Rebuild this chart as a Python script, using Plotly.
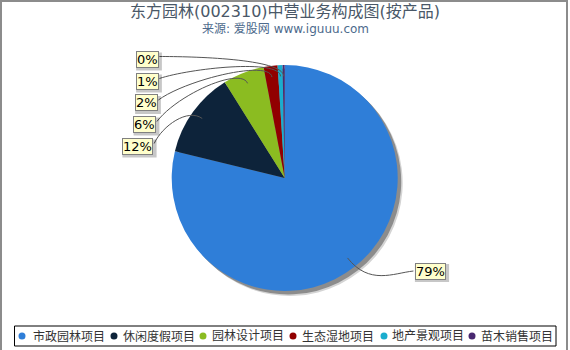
import math
import plotly.graph_objects as go

W, H = 570, 350

categories = ["市政园林项目", "休闲度假项目", "园林设计项目", "生态湿地项目", "地产景观项目", "苗木销售项目"]
shares = [78.8, 12.3, 5.9, 2.0, 0.7, 0.3]
pct_labels = ["79%", "12%", "6%", "2%", "1%", "0%"]
colors = ["#2f7ed8", "#0d233a", "#8bbc21", "#910000", "#1aadce", "#492970"]

# layout constants (pixels)
CX, CY, R = 284.7, 178.0, 113.0
label_pos = [(430, 271), (137.5, 146.5), (144.5, 124.5), (146, 103), (147, 81.5), (147, 59.5)]
legend_circle_x = [22, 114, 203, 293, 384, 472]
legend_text_x = [31, 121, 210, 300, 390, 479]
LEG_Y = 336
FONT = "DejaVu Sans, Noto Sans CJK SC, sans-serif"


def px(x):
    return x / W


def py(y):
    return 1 - y / H


def domain(dx=0.0, dy=0.0):
    cx, cy = CX + dx, CY + dy
    return dict(x=[px(cx - 160), px(cx + 160)], y=[py(cy + R), py(cy - R)])


fig = go.Figure()
# shadow
for off, col in [(5, "#d4d4d4"), (3.5, "#8c8c8c")]:
    fig.add_trace(go.Pie(values=shares, labels=categories, sort=False, direction="clockwise",
                         marker=dict(colors=[col] * len(shares), line=dict(width=0)),
                         textinfo="none", hoverinfo="skip", showlegend=False,
                         domain=domain(off, off)))
fig.add_trace(go.Pie(values=shares, labels=categories, sort=False, direction="clockwise",
                     marker=dict(colors=colors, line=dict(width=0)),
                     textinfo="none", hoverinfo="label+percent", showlegend=False,
                     domain=domain()))

shapes = []
annotations = []
total = sum(shares)
cum = 0.0
for i, v in enumerate(shares):
    mid = (cum + v / 2) / total * 2 * math.pi
    cum += v
    ux, uy = math.sin(mid), -math.cos(mid)
    ax, ay = CX + 0.9 * R * ux, CY + 0.9 * R * uy
    bx, by = label_pos[i]
    right_side = bx > CX
    half_w = 4 + 4.2 * len(pct_labels[i])
    if right_side:
        ex, ey = bx - half_w, by
        L = 35
        p1 = (ax + L * ux, ay + L * uy)
        p2 = (ex + (0.45 * (p1[0] - ex)), ey + (p1[1] - ey) * 0.15)
    else:
        ex, ey = bx + half_w, by - 3
        L = 18
        p1 = (ax + L * ux, ay + L * uy)
        p2 = (ex + 0.25 * (p1[0] - ex), ey - 0.5 * max(0.0, ey - p1[1]))
    path = "M {:.4f} {:.4f} C {:.4f} {:.4f} {:.4f} {:.4f} {:.4f} {:.4f}".format(
        px(ax), py(ay), px(p1[0]), py(p1[1]), px(p2[0]), py(p2[1]), px(ex), py(ey))
    shapes.append(dict(type="path", path=path, xref="paper", yref="paper",
                       line=dict(color="#555555", width=1)))
    # label box shadow
    hw = half_w + 0.5
    shapes.append(dict(type="rect", xref="paper", yref="paper",
                       x0=px(bx - hw + 2), x1=px(bx + hw + 2),
                       y0=py(by + 9 + 2), y1=py(by - 9 + 2),
                       fillcolor="rgba(0,0,0,0.22)", line=dict(width=0)))
    annotations.append(dict(x=px(bx), y=py(by), xref="paper", yref="paper",
                            xanchor="center", yanchor="middle",
                            text=pct_labels[i], showarrow=False, borderpad=0,
                            font=dict(family=FONT, size=13, color="#000000"),
                            bgcolor="#ffffcc", bordercolor="#808080", borderwidth=1))

# title & subtitle
annotations.append(dict(x=0.5, y=py(12), xref="paper", yref="paper", showarrow=False,
                        xanchor="center", yanchor="middle",
                        text="东方园林(002310)中营业务构成图(按产品)",
                        font=dict(family=FONT, size=16, color="#4a5868")))
annotations.append(dict(x=0.5, y=py(29), xref="paper", yref="paper", showarrow=False,
                        xanchor="center", yanchor="middle",
                        text="来源: 爱股网 www.iguuu.com",
                        font=dict(family=FONT, size=12, color="#4d6a8c")))

# legend
shapes.append(dict(type="rect", xref="paper", yref="paper", x0=px(14.5), x1=px(556),
                   y0=py(346), y1=py(326), line=dict(color="#000000", width=1)))
for i, name in enumerate(categories):
    cx = legend_circle_x[i]
    shapes.append(dict(type="circle", xref="paper", yref="paper",
                       x0=px(cx - 3.5), x1=px(cx + 3.5), y0=py(LEG_Y + 3.5), y1=py(LEG_Y - 3.5),
                       fillcolor=colors[i], line=dict(width=0)))
    annotations.append(dict(x=px(legend_text_x[i]), y=py(LEG_Y), xref="paper", yref="paper",
                            xanchor="left", yanchor="middle", showarrow=False, text=name,
                            font=dict(family=FONT, size=12, color="#333333")))

# outer frame
shapes.append(dict(type="rect", xref="paper", yref="paper", x0=px(1), x1=px(567),
                   y0=py(352), y1=py(1), line=dict(color="#8c8c8c", width=2)))

fig.update_layout(width=W, height=H, margin=dict(l=0, r=0, t=0, b=0),
                  paper_bgcolor="white", plot_bgcolor="white",
                  shapes=shapes, annotations=annotations, showlegend=False)
fig.write_html("out.html")
